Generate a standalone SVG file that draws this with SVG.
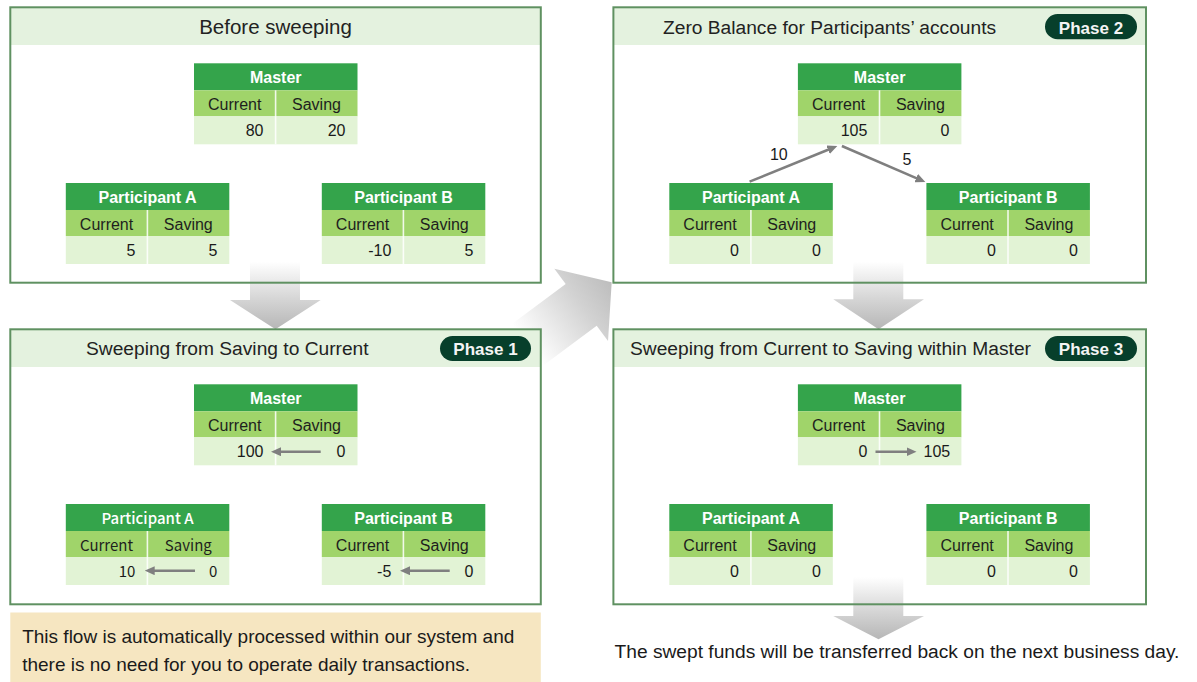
<svg xmlns="http://www.w3.org/2000/svg" width="1197" height="682" viewBox="0 0 1197 682">
  <style>
    text { font-family: "Liberation Sans", Arial, sans-serif; }
    .band { fill: #e4f2df; }
    .frame { fill: none; stroke: #5f9161; stroke-width: 2; }
    .ttl { font-size: 19.2px; fill: #222; }
    .pill { fill: #073f2b; }
    .pilltxt { font-size: 17px; font-weight: bold; fill: #f4f4f4; text-anchor: middle; }
    .th { font-size: 16px; font-weight: bold; fill: #fff; text-anchor: middle; }
    .tc { font-size: 16px; fill: #1e1e1e; text-anchor: middle; }
    .tv { font-size: 16px; fill: #1a1a1a; text-anchor: end; }
    .alt { font-family: "Noto Sans CJK JP", "Noto Sans", sans-serif; }
    .flow { stroke: #7f7f7f; stroke-width: 2.5; fill: none; marker-end: url(#ah); }
    .lbl { font-size: 16px; fill: #1a1a1a; text-anchor: middle; }
    .note { font-size: 19px; fill: #1a1a1a; }
  </style>
  <defs>
    <linearGradient id="gDown" x1="0" y1="0" x2="0" y2="1">
      <stop offset="0" stop-color="#ffffff"/>
      <stop offset="0.57" stop-color="#d4d4d4"/>
      <stop offset="1" stop-color="#b6b6b6"/>
    </linearGradient>
    <linearGradient id="gDiag" gradientUnits="userSpaceOnUse" x1="-105" y1="0" x2="0" y2="0">
      <stop offset="0" stop-color="#ffffff"/>
      <stop offset="0.64" stop-color="#d2d2d2"/>
      <stop offset="1" stop-color="#bdbdbd"/>
    </linearGradient>
    <marker id="ah" viewBox="0 0 10 9" refX="2" refY="4.5" markerWidth="10" markerHeight="9" markerUnits="userSpaceOnUse" orient="auto">
      <path d="M0,0 L10,4.5 L0,9 z" fill="#7f7f7f"/>
    </marker>
    <!-- account table: title row, column-name row, balance row -->
    <g id="tblBg">
      <rect width="163.5" height="27" fill="#34a44b"/>
      <rect y="27" width="163.5" height="26" fill="#a0d46a"/>
      <rect y="53" width="163.5" height="28" fill="#e2f3d5"/>
      <rect x="80.8" y="27" width="1.6" height="54" fill="#ffffff" opacity="0.85"/>
    </g>
  </defs>

  <!-- big grey stage arrows, kept under the panel frames -->
  <g id="stage-arrows">
    <path d="M250,261.7 H300 V300 H320.7 L275.5,329.3 L230,300 H250 Z" fill="url(#gDown)"/>
    <path d="M853.3,261.7 H903.3 V299.3 H924 L878.5,329.3 L833.3,299.3 H853.3 Z" fill="url(#gDown)"/>
    <path d="M853.3,577 H903.3 V616 H924 L878.5,639.3 L833.3,616 H853.3 Z" fill="url(#gDown)"/>
    <path transform="translate(611.7,282.3) rotate(-36.6)" d="M0,0 L-38,-45 L-38,-26 L-105,-26 L-105,26 L-38,26 L-38,45 Z" fill="url(#gDiag)"/>
  </g>

  <!-- stage panels -->
  <g id="panel-before">
    <rect class="band" x="10.3" y="7.3" width="530.5" height="37.7"/>
    <rect class="frame" x="10.3" y="7.3" width="530.5" height="275.4"/>
    <text class="ttl" x="275.5" y="34" text-anchor="middle" style="font-size:20.5px">Before sweeping</text>
  </g>
  <g id="panel-phase2">
    <rect class="band" x="613.4" y="7.3" width="532.6" height="37.7"/>
    <rect class="frame" x="613.4" y="7.3" width="532.6" height="275.4"/>
    <text class="ttl" x="663" y="34">Zero Balance for Participants’ accounts</text>
    <rect class="pill" x="1045" y="14" width="92" height="25.3" rx="12.6"/>
    <text class="pilltxt" x="1091" y="33.5">Phase 2</text>
  </g>
  <g id="panel-phase1">
    <rect class="band" x="10.3" y="329.3" width="530.5" height="37.7"/>
    <rect class="frame" x="10.3" y="329.3" width="530.5" height="275"/>
    <text class="ttl" x="86" y="355">Sweeping from Saving to Current</text>
    <rect class="pill" x="440" y="336" width="91" height="25" rx="12.5"/>
    <text class="pilltxt" x="485.5" y="354.5">Phase 1</text>
  </g>
  <g id="panel-phase3">
    <rect class="band" x="613.4" y="329.3" width="532.6" height="37.7"/>
    <rect class="frame" x="613.4" y="329.3" width="532.6" height="275"/>
    <text class="ttl" x="630" y="355">Sweeping from Current to Saving within Master</text>
    <rect class="pill" x="1045" y="336" width="92" height="25" rx="12.5"/>
    <text class="pilltxt" x="1091" y="354.5">Phase 3</text>
  </g>

  <!-- accounts: before sweeping -->
  <g id="before-master" transform="translate(194,63.3)">
    <use href="#tblBg"/>
    <text class="th" x="81.75" y="19.5">Master</text>
    <text class="tc" x="40.75" y="46.5">Current</text>
    <text class="tc" x="122.5" y="46.5">Saving</text>
    <text class="tv" x="69.5" y="73">80</text>
    <text class="tv" x="151.5" y="73">20</text>
  </g>
  <g id="before-a" transform="translate(65.8,183)">
    <use href="#tblBg"/>
    <text class="th" x="81.75" y="19.5">Participant A</text>
    <text class="tc" x="40.75" y="46.5">Current</text>
    <text class="tc" x="122.5" y="46.5">Saving</text>
    <text class="tv" x="69.5" y="73">5</text>
    <text class="tv" x="151.5" y="73">5</text>
  </g>
  <g id="before-b" transform="translate(321.8,183)">
    <use href="#tblBg"/>
    <text class="th" x="81.75" y="19.5">Participant B</text>
    <text class="tc" x="40.75" y="46.5">Current</text>
    <text class="tc" x="122.5" y="46.5">Saving</text>
    <text class="tv" x="69.5" y="73">-10</text>
    <text class="tv" x="151.5" y="73">5</text>
  </g>

  <!-- accounts: phase 2 -->
  <g id="p2-master" transform="translate(797.9,63.3)">
    <use href="#tblBg"/>
    <text class="th" x="81.75" y="19.5">Master</text>
    <text class="tc" x="40.75" y="46.5">Current</text>
    <text class="tc" x="122.5" y="46.5">Saving</text>
    <text class="tv" x="69.5" y="73">105</text>
    <text class="tv" x="151.5" y="73">0</text>
  </g>
  <g id="p2-a" transform="translate(669.3,183)">
    <use href="#tblBg"/>
    <text class="th" x="81.75" y="19.5">Participant A</text>
    <text class="tc" x="40.75" y="46.5">Current</text>
    <text class="tc" x="122.5" y="46.5">Saving</text>
    <text class="tv" x="69.5" y="73">0</text>
    <text class="tv" x="151.5" y="73">0</text>
  </g>
  <g id="p2-b" transform="translate(926.4,183)">
    <use href="#tblBg"/>
    <text class="th" x="81.75" y="19.5">Participant B</text>
    <text class="tc" x="40.75" y="46.5">Current</text>
    <text class="tc" x="122.5" y="46.5">Saving</text>
    <text class="tv" x="69.5" y="73">0</text>
    <text class="tv" x="151.5" y="73">0</text>
  </g>

  <!-- accounts: phase 1 -->
  <g id="p1-master" transform="translate(194,384.3)">
    <use href="#tblBg"/>
    <text class="th" x="81.75" y="19.5">Master</text>
    <text class="tc" x="40.75" y="46.5">Current</text>
    <text class="tc" x="122.5" y="46.5">Saving</text>
    <text class="tv" x="69.5" y="73">100</text>
    <text class="tv" x="151.5" y="73">0</text>
  </g>
  <g id="p1-a" transform="translate(65.8,504)">
    <use href="#tblBg"/>
    <text class="th alt" x="81.75" y="19.5" style="font-size:15px;font-weight:500">Participant A</text>
    <text class="tc alt" x="40.75" y="46.5" style="font-size:15px">Current</text>
    <text class="tc alt" x="122.5" y="46.5" style="font-size:15px">Saving</text>
    <text class="tv alt" x="69.5" y="73" style="font-size:15px">10</text>
    <text class="tv alt" x="151.5" y="73" style="font-size:15px">0</text>
  </g>
  <g id="p1-b" transform="translate(321.8,504)">
    <use href="#tblBg"/>
    <text class="th" x="81.75" y="19.5">Participant B</text>
    <text class="tc" x="40.75" y="46.5">Current</text>
    <text class="tc" x="122.5" y="46.5">Saving</text>
    <text class="tv" x="69.5" y="73">-5</text>
    <text class="tv" x="151.5" y="73">0</text>
  </g>

  <!-- accounts: phase 3 -->
  <g id="p3-master" transform="translate(797.9,384.3)">
    <use href="#tblBg"/>
    <text class="th" x="81.75" y="19.5">Master</text>
    <text class="tc" x="40.75" y="46.5">Current</text>
    <text class="tc" x="122.5" y="46.5">Saving</text>
    <text class="tv" x="69.5" y="73">0</text>
    <text class="tv" x="152.3" y="73">105</text>
  </g>
  <g id="p3-a" transform="translate(669.3,504)">
    <use href="#tblBg"/>
    <text class="th" x="81.75" y="19.5">Participant A</text>
    <text class="tc" x="40.75" y="46.5">Current</text>
    <text class="tc" x="122.5" y="46.5">Saving</text>
    <text class="tv" x="69.5" y="73">0</text>
    <text class="tv" x="151.5" y="73">0</text>
  </g>
  <g id="p3-b" transform="translate(926.4,504)">
    <use href="#tblBg"/>
    <text class="th" x="81.75" y="19.5">Participant B</text>
    <text class="tc" x="40.75" y="46.5">Current</text>
    <text class="tc" x="122.5" y="46.5">Saving</text>
    <text class="tv" x="69.5" y="73">0</text>
    <text class="tv" x="151.5" y="73">0</text>
  </g>

  <!-- fund movements -->
  <g id="connectors">
    <path class="flow" d="M749.6,181.7 L829.9,149"/>
    <path class="flow" d="M841.9,146 L918,178.8"/>
    <path class="flow" d="M320.7,451.7 H279"/>
    <path class="flow" d="M195,570.7 H152.7"/>
    <path class="flow" d="M449.7,570.7 H408"/>
    <path class="flow" d="M875.5,451.7 H908.5"/>
    <text class="lbl" x="778.8" y="160">10</text>
    <text class="lbl" x="907" y="165">5</text>
  </g>

  <g id="note">
    <rect x="10.3" y="612.5" width="530.5" height="70" fill="#f6e6c1"/>
    <text class="note" x="22.2" y="643.3">This flow is automatically processed within our system and</text>
    <text class="note" x="22.2" y="670.7">there is no need for you to operate daily transactions.</text>
  </g>

  <g id="footer">
    <text class="note" x="614.5" y="658.3" style="font-size:19.2px">The swept funds will be transferred back on the next business day.</text>
  </g>
</svg>
